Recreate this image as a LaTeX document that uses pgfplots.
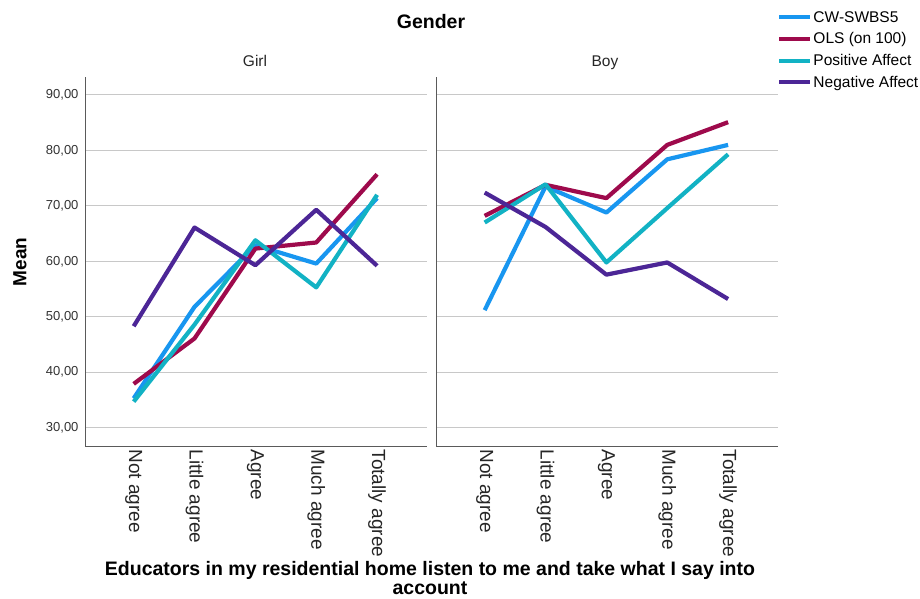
\documentclass[border=0pt]{standalone}
\usepackage{pgfplots}
\pgfplotsset{compat=1.18}
\usepackage{fontspec}
\setmainfont{Liberation Sans}
\definecolor{cwblue}{RGB}{24,150,240}
\definecolor{olsred}{RGB}{158,10,76}
\definecolor{posteal}{RGB}{18,178,196}
\definecolor{negpurple}{RGB}{76,38,150}
\definecolor{axgray}{RGB}{90,90,90}
\definecolor{grgray}{RGB}{200,200,200}
\pgfplotsset{
  panel/.style={
    scale only axis, width=342pt, height=369.3pt, anchor=south west,
    xmin=0.2, xmax=5.82, ymin=26.7, ymax=93.3,
    axis lines*=left, axis line style={draw=axgray, line width=0.9pt, -},
    xtick={1,2,3,4,5},
    xticklabels={Not agree,Little agree,Agree,Much agree,Totally agree},
    xticklabel style={rotate=-90, anchor=west, font=\fontsize{19}{21}\selectfont, text=black!85},
    ytick={30,40,50,60,70,80,90},
    ymajorgrids, grid style={draw=grgray, line width=1pt},
    major tick length=0pt,
    every axis plot/.append style={line width=4.2pt, line join=round},
    clip=false,
  }
}
\begin{document}
\begin{tikzpicture}
\useasboundingbox (0pt,0pt) rectangle (920pt,598pt);
\begin{axis}[panel, at={(85pt,152pt)},
  yticklabel style={font=\fontsize{13}{15}\selectfont, text=black!80, xshift=-3pt,
    /pgf/number format/fixed, /pgf/number format/fixed zerofill,
    /pgf/number format/precision=2, /pgf/number format/use comma,
    /pgf/number format/assume math mode=true}]
\addplot[cwblue] coordinates {(1,35.3) (2,51.8) (3,62.9) (4,59.6) (5,71.4)};
\addplot[olsred] coordinates {(1,37.9) (2,46.1) (3,62.3) (4,63.4) (5,75.7)};
\addplot[posteal] coordinates {(1,34.7) (2,48.6) (3,63.8) (4,55.3) (5,72.0)};
\addplot[negpurple] coordinates {(1,48.3) (2,66.1) (3,59.3) (4,69.3) (5,59.2)};
\end{axis}
\begin{axis}[panel, at={(436pt,152pt)}, yticklabels={},
  legend cell align=left,
  legend style={at={(0.997,1.182)}, anchor=north west, draw=none, fill=none,
    inner sep=0pt, font=\fontsize{15.5}{17}\selectfont, row sep=6pt,
    nodes={inner sep=1.5pt}},
  legend image code/.code={\draw[#1, line width=3.8pt] (0pt,0pt) -- (31pt,0pt);}]
\addplot[cwblue] coordinates {(1,51.2) (2,73.5) (3,68.8) (4,78.4) (5,81.0)};
\addplot[olsred] coordinates {(1,68.2) (2,73.8) (3,71.4) (4,81.0) (5,85.1)};
\addplot[posteal] coordinates {(1,67.0) (2,73.9) (3,59.8) (4,69.6) (5,79.3)};
\addplot[negpurple] coordinates {(1,72.4) (2,66.2) (3,57.6) (4,59.8) (5,53.2)};
\legend{CW-SWBS5, OLS (on 100), Positive Affect, Negative Affect}
\end{axis}
\node[font=\fontsize{19.5}{21}\selectfont\bfseries] at (431pt,576pt) {Gender};
\node[font=\fontsize{15.5}{17}\selectfont, text=black!85, anchor=base] at (255pt,531pt) {Girl};
\node[font=\fontsize{15.5}{17}\selectfont, text=black!85, anchor=base] at (605pt,531pt) {Boy};
\node[font=\fontsize{19}{20}\selectfont\bfseries, rotate=90] at (20pt,336pt) {Mean};
\node[font=\fontsize{19.5}{19}\selectfont\bfseries, align=center, inner sep=0pt] at (430pt,20pt)
  {Educators in my residential home listen to me and take what I say into\\account};
\end{tikzpicture}
\end{document}
